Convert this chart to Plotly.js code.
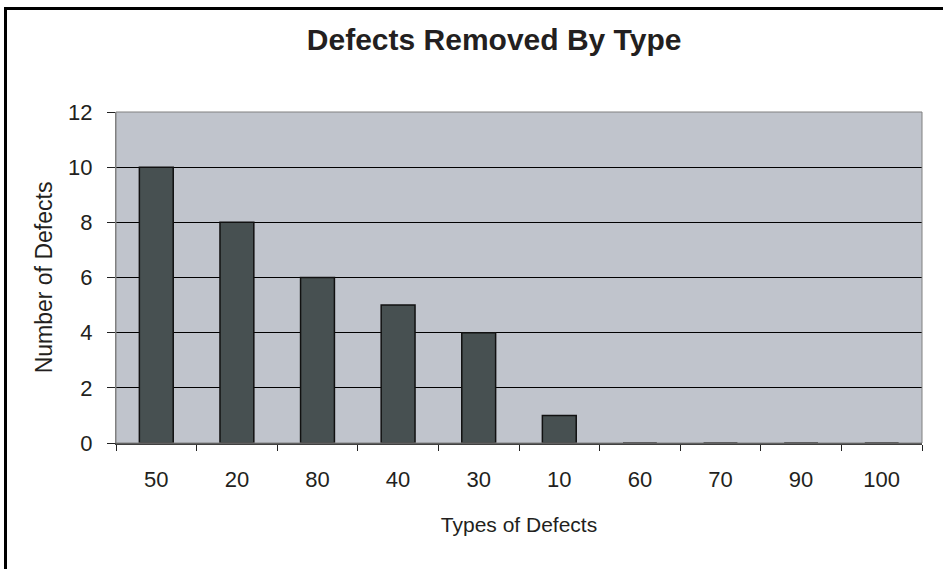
<!DOCTYPE html>
<html>
<head>
<meta charset="utf-8">
<script src="https://cdn.plot.ly/plotly-3.0.1.min.js"></script>
<style>
  html, body { margin: 0; padding: 0; background: #ffffff; overflow: hidden; }
  #wrap { position: relative; width: 943px; height: 569px; overflow: hidden; }
  #chart { width: 943px; height: 569px; }
  #frame {
    position: absolute; left: 4px; top: 7px; width: 1000px; height: 1000px;
    border: 3px solid #000; box-sizing: border-box; pointer-events: none;
  }
</style>
</head>
<body>
<div id="wrap">
  <div id="chart"></div>
  <div id="frame"></div>
</div>
<script>
// Defect types, ordered by how many were removed
const defectTypes = ['50', '20', '80', '40', '30', '10', '60', '70', '90', '100'];
const defectCounts = [10, 8, 6, 5, 4, 1, 0, 0, 0, 0];
const yTickValues = [0, 2, 4, 6, 8, 10, 12];

const fontFamily = '"Liberation Sans", Arial, sans-serif';
const textColor = '#231f20';

const trace = {
  type: 'bar',
  x: defectTypes,
  y: defectCounts,
  marker: {
    color: '#475051',
    line: { color: '#111111', width: 1.5 }
  },
  hoverinfo: 'x+y'
};

const layout = {
  width: 943,
  height: 569,
  margin: { l: 116, r: 21, t: 112, b: 126, pad: 0 },
  paper_bgcolor: '#ffffff',
  plot_bgcolor: '#c0c4cc',
  showlegend: false,
  bargap: 0.58,
  font: { family: fontFamily, size: 22, color: textColor },
  title: {
    text: '<b>Defects Removed By Type</b>',
    font: { family: fontFamily, size: 30, color: textColor },
    x: 0.524, xref: 'container', xanchor: 'center',
    y: 0.93, yref: 'container', yanchor: 'middle'
  },
  xaxis: {
    type: 'category',
    tickson: 'boundaries',
    ticks: 'outside',
    ticklen: 6,
    tickwidth: 1,
    tickcolor: '#222222',
    showgrid: false,
    showline: true,
    linecolor: '#404040',
    linewidth: 2,
    layer: 'above traces',
    tickfont: { family: fontFamily, size: 22, color: textColor },
    ticklabelstandoff: 16,
    title: {
      text: 'Types of Defects',
      font: { family: fontFamily, size: 21, color: textColor },
      standoff: 26
    },
    fixedrange: true
  },
  yaxis: {
    range: [0, 12],
    tickvals: yTickValues,
    ticks: 'outside',
    ticklen: 8,
    tickwidth: 1,
    tickcolor: '#222222',
    showgrid: true,
    gridcolor: '#000000',
    gridwidth: 1,
    zeroline: false,
    showline: true,
    linecolor: '#808080',
    linewidth: 1,
    tickfont: { family: fontFamily, size: 22, color: textColor },
    ticklabelstandoff: 10,
    title: {
      text: 'Number of Defects',
      font: { family: fontFamily, size: 23, color: textColor },
      standoff: 9
    },
    fixedrange: true
  },
  shapes: [
    {
      type: 'rect', xref: 'paper', yref: 'paper',
      x0: 0, x1: 1, y0: 0, y1: 1,
      line: { color: '#808080', width: 1 },
      fillcolor: 'rgba(0,0,0,0)',
      layer: 'above'
    }
  ]
};

Plotly.newPlot('chart', [trace], layout, { displayModeBar: false, staticPlot: true });
</script>
</body>
</html>
